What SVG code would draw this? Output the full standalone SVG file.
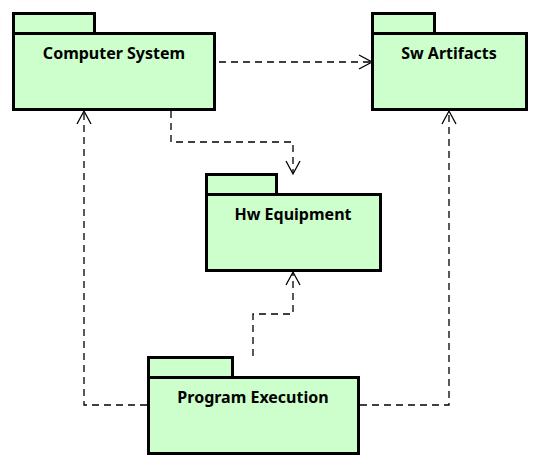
<svg xmlns="http://www.w3.org/2000/svg" width="540" height="468" viewBox="0 0 540 468">
<style>
.pkg{fill:#ccffcc;stroke:#000;stroke-width:3}
.lbl{font-family:"Noto Sans","Open Sans","DejaVu Sans",sans-serif;font-weight:bold;font-size:16px;text-anchor:middle;fill:#000}
.dep{fill:none;stroke:#000;stroke-width:1.3;stroke-dasharray:7,5}
.ah{fill:none;stroke:#000;stroke-width:1.3}
</style>
<rect width="540" height="468" fill="#fff"/>
<g id="connectors">
<path class="dep" d="M219,62 H371"/>
<path class="ah" d="M359,55 L372,62 L359,69"/>
<path class="dep" d="M171,111 V142 H293 V173"/>
<path class="ah" d="M286,161 L293,174 L300,161"/>
<path class="dep" d="M147,405 H84 V112"/>
<path class="ah" d="M77,124 L84,111 L91,124"/>
<path class="dep" d="M360,405 H449 V112"/>
<path class="ah" d="M442,124 L449,111 L456,124"/>
<path class="dep" d="M253,356 V314 H293 V273"/>
<path class="ah" d="M286,285 L293,272 L300,285"/>
</g>
<g id="computer-system">
<rect class="pkg" x="13.5" y="13.5" width="81" height="20"/>
<rect class="pkg" x="13.5" y="33.5" width="201" height="76"/>
<text class="lbl" x="114" y="59">Computer System</text>
</g>
<g id="sw-artifacts">
<rect class="pkg" x="372.5" y="13.5" width="62" height="20"/>
<rect class="pkg" x="372.5" y="33.5" width="154" height="76"/>
<text class="lbl" x="449" y="59">Sw Artifacts</text>
</g>
<g id="hw-equipment">
<rect class="pkg" x="206.5" y="174.5" width="70" height="20"/>
<rect class="pkg" x="206.5" y="194.5" width="174" height="76"/>
<text class="lbl" x="293" y="220">Hw Equipment</text>
</g>
<g id="program-execution">
<rect class="pkg" x="148.5" y="357.5" width="84" height="20"/>
<rect class="pkg" x="148.5" y="377.5" width="210" height="76"/>
<text class="lbl" x="253" y="403">Program Execution</text>
</g>
</svg>
